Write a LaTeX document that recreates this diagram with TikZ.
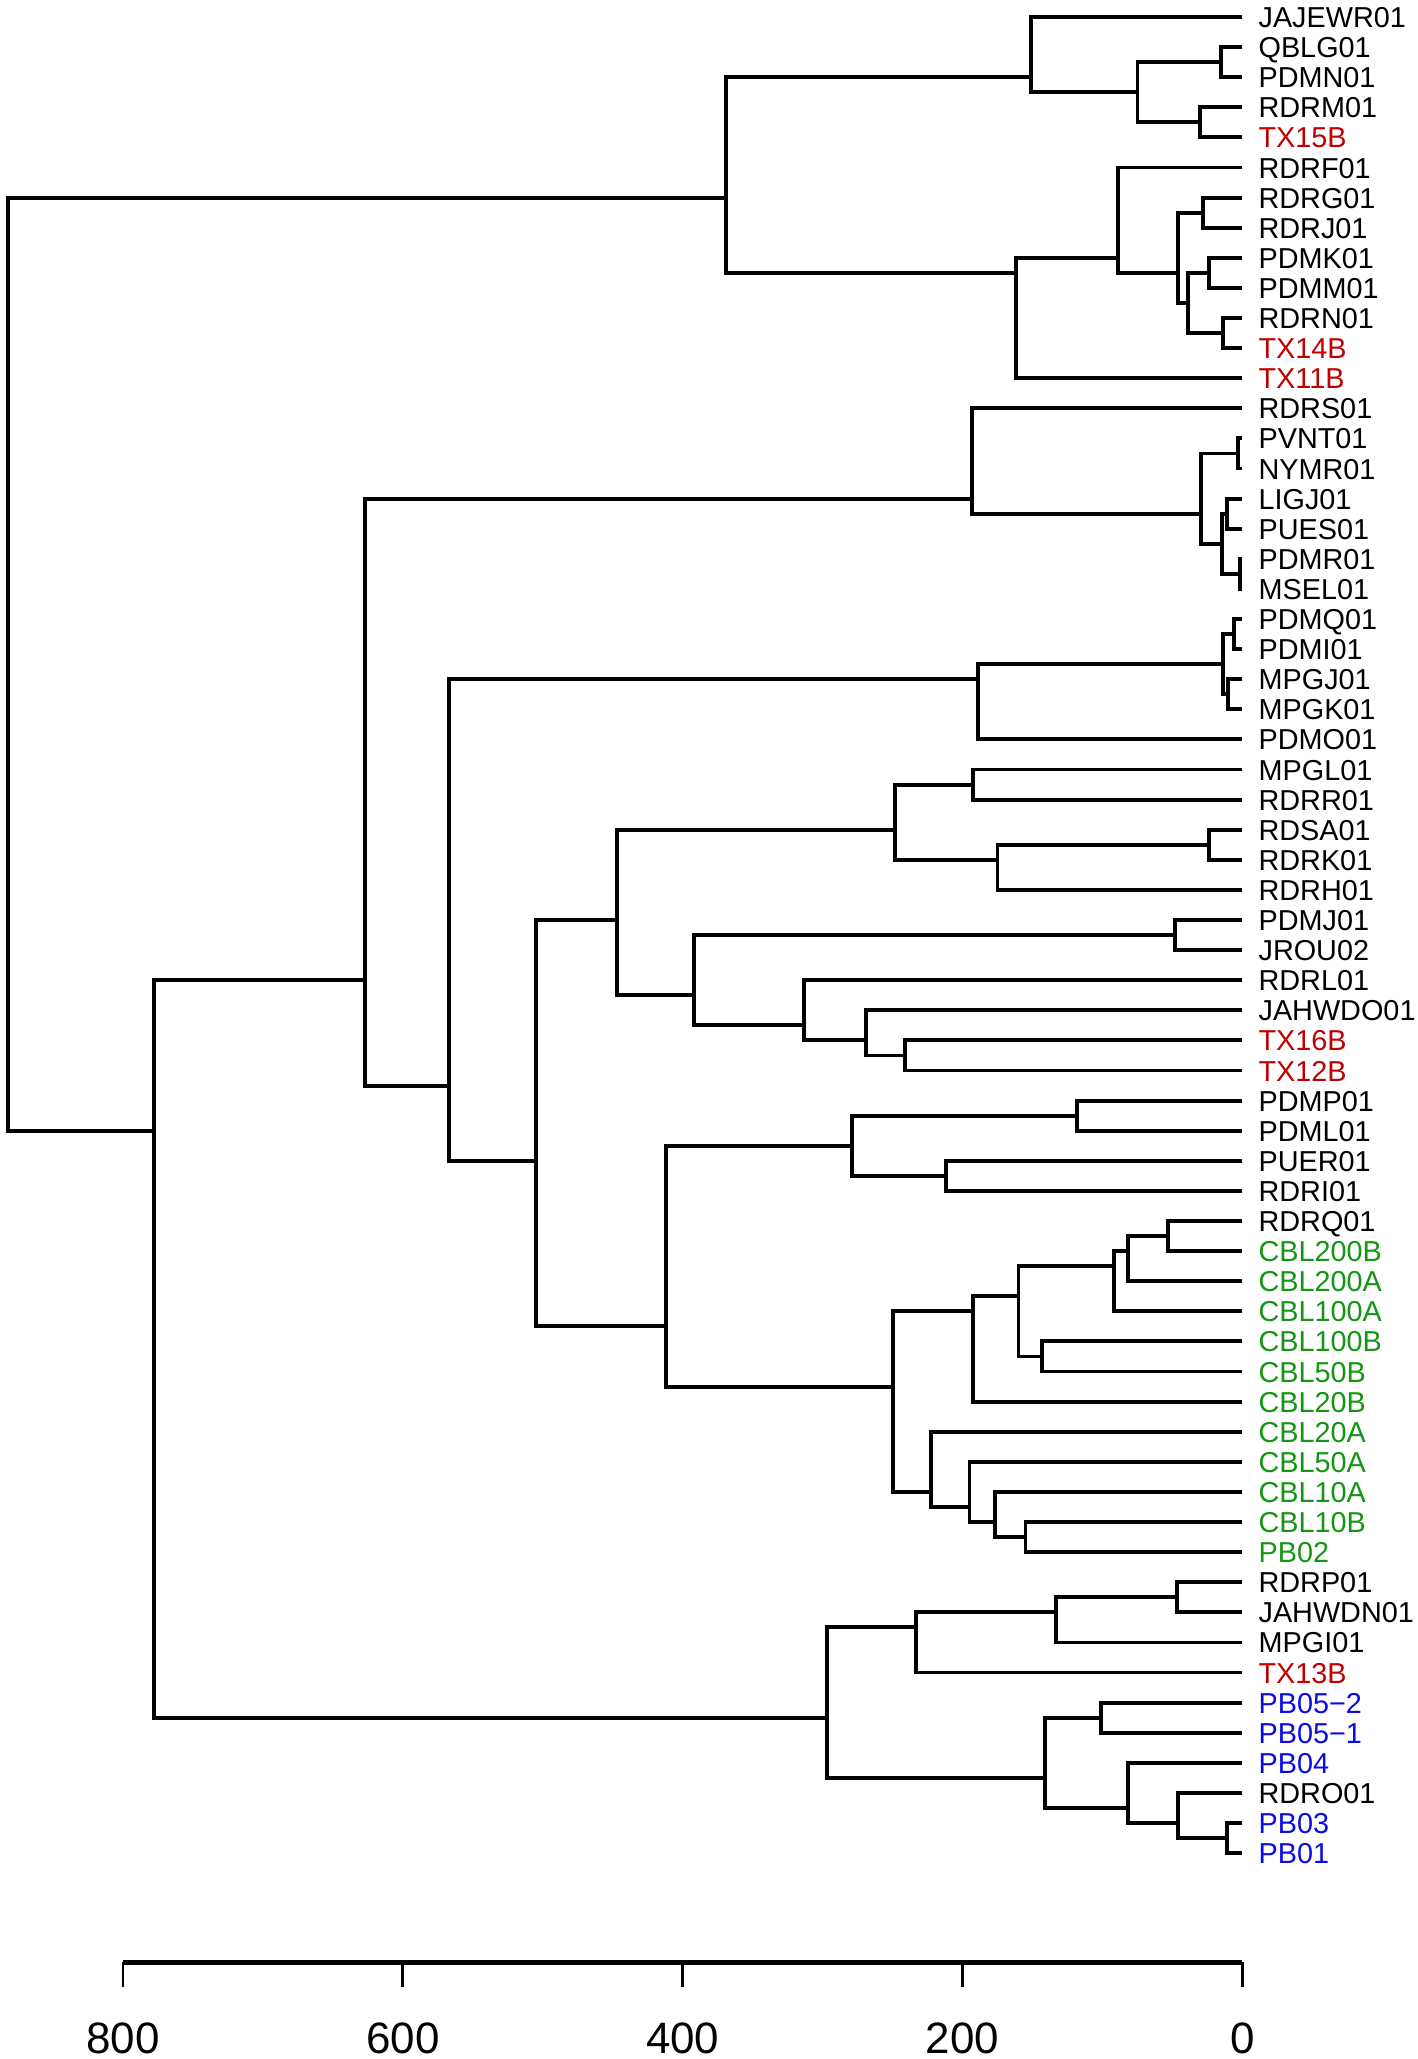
\documentclass[tikz,border=0pt]{standalone}
\usepackage{fontspec}
\setmainfont{Liberation Sans}
\usepackage{tikz}
\definecolor{txred}{RGB}{192,0,0}
\definecolor{cblgreen}{RGB}{20,150,20}
\definecolor{pbblue}{RGB}{10,10,230}
\tikzstyle{leaf} = [anchor=west, inner xsep=0.155cm, inner ysep=0pt, text height=6pt, text depth=0pt, font=\fontsize{8.2}{9}\selectfont]
\tikzstyle{branch} = [line width=1.1pt, black]
\tikzstyle{axisline} = [line width=1.4pt]
\tikzstyle{tick} = [line width=0.8pt]
\tikzstyle{ticklabel} = [inner sep=0pt, font=\fontsize{12.5}{14}\selectfont]

\begin{document}
\begin{tikzpicture}[x=-0.0139875cm, y=-0.301cm]
\useasboundingbox (887.9,-0.565) rectangle (-125.1,67.84);

\foreach \lbl/\col [count=\i from 0] in {JAJEWR01/black, QBLG01/black, PDMN01/black, RDRM01/black, TX15B/txred, RDRF01/black, RDRG01/black, RDRJ01/black, PDMK01/black, PDMM01/black, RDRN01/black, TX14B/txred, TX11B/txred, RDRS01/black, PVNT01/black, NYMR01/black, LIGJ01/black, PUES01/black, PDMR01/black, MSEL01/black, PDMQ01/black, PDMI01/black, MPGJ01/black, MPGK01/black, PDMO01/black, MPGL01/black, RDRR01/black, RDSA01/black, RDRK01/black, RDRH01/black, PDMJ01/black, JROU02/black, RDRL01/black, JAHWDO01/black, TX16B/txred, TX12B/txred, PDMP01/black, PDML01/black, PUER01/black, RDRI01/black, RDRQ01/black, CBL200B/cblgreen, CBL200A/cblgreen, CBL100A/cblgreen, CBL100B/cblgreen, CBL50B/cblgreen, CBL20B/cblgreen, CBL20A/cblgreen, CBL50A/cblgreen, CBL10A/cblgreen, CBL10B/cblgreen, PB02/cblgreen, RDRP01/black, JAHWDN01/black, MPGI01/black, TX13B/txred, PB05−2/pbblue, PB05−1/pbblue, PB04/pbblue, RDRO01/black, PB03/pbblue, PB01/pbblue}
  \node (L\i) [leaf, text=\col] at (0,\i) {\lbl};

\coordinate (a1) at (15,1.5);
\coordinate (a2) at (30,3.5);
\coordinate (a3) at (75,2.5);
\coordinate (a4) at (151,2);
\coordinate (b1) at (28,6.5);
\coordinate (b2) at (24,8.5);
\coordinate (b3) at (14,10.5);
\coordinate (b4) at (39,9.5);
\coordinate (b5) at (46,8.5);
\coordinate (b6) at (89,8);
\coordinate (b7) at (162,8.5);
\coordinate (t1) at (369,6);
\coordinate (c1) at (3,14.5);
\coordinate (c2) at (11,16.5);
\coordinate (c3) at (2,18.5);
\coordinate (c4) at (14.5,17.5);
\coordinate (c5) at (29.5,16.5);
\coordinate (c6) at (193,16);
\coordinate (d1) at (6,20.5);
\coordinate (d2) at (10,22.5);
\coordinate (d3) at (14,21.5);
\coordinate (d4) at (189,22);
\coordinate (e1) at (192.5,25.5);
\coordinate (e2) at (24,27.5);
\coordinate (e3) at (175,28);
\coordinate (e4) at (248,27);
\coordinate (f1) at (48,30.5);
\coordinate (f2) at (241,34.5);
\coordinate (f3) at (269,34);
\coordinate (f4) at (313,33.5);
\coordinate (f5) at (392,32.5);
\coordinate (g1) at (447,30);
\coordinate (h1) at (118,36.5);
\coordinate (h2) at (212,38.5);
\coordinate (h3) at (279,37.5);
\coordinate (k1) at (53,40.5);
\coordinate (k2) at (82,41);
\coordinate (k3) at (92,41.5);
\coordinate (k4) at (143,44.5);
\coordinate (k5) at (160,42.5);
\coordinate (k6) at (192.5,43);
\coordinate (m1) at (155,50.5);
\coordinate (m2) at (177,50);
\coordinate (m3) at (195,49.5);
\coordinate (m4) at (222.5,49);
\coordinate (k7) at (250,45.5);
\coordinate (h4) at (412,43.5);
\coordinate (g2) at (505,38);
\coordinate (g3) at (567,35.5);
\coordinate (g4) at (627,32);
\coordinate (p1) at (47,52.5);
\coordinate (p2) at (133,53);
\coordinate (p3) at (233,53.5);
\coordinate (q1) at (101,56.5);
\coordinate (q2) at (11,60.5);
\coordinate (q3) at (46,60);
\coordinate (q4) at (82,59.5);
\coordinate (q5) at (141,58.5);
\coordinate (p4) at (297,56.5);
\coordinate (r2) at (778,37);
\coordinate (root) at (882,30.5);

\draw [branch] (L1) -| (a1) |- (L2);
\draw [branch] (L3) -| (a2) |- (L4);
\draw [branch] (a1) -| (a3) |- (a2);
\draw [branch] (L0) -| (a4) |- (a3);
\draw [branch] (L6) -| (b1) |- (L7);
\draw [branch] (L8) -| (b2) |- (L9);
\draw [branch] (L10) -| (b3) |- (L11);
\draw [branch] (b2) -| (b4) |- (b3);
\draw [branch] (b1) -| (b5) |- (b4);
\draw [branch] (L5) -| (b6) |- (b5);
\draw [branch] (b6) -| (b7) |- (L12);
\draw [branch] (a4) -| (t1) |- (b7);
\draw [branch] (L14) -| (c1) |- (L15);
\draw [branch] (L16) -| (c2) |- (L17);
\draw [branch] (L18) -| (c3) |- (L19);
\draw [branch] (c2) -| (c4) |- (c3);
\draw [branch] (c1) -| (c5) |- (c4);
\draw [branch] (L13) -| (c6) |- (c5);
\draw [branch] (L20) -| (d1) |- (L21);
\draw [branch] (L22) -| (d2) |- (L23);
\draw [branch] (d1) -| (d3) |- (d2);
\draw [branch] (d3) -| (d4) |- (L24);
\draw [branch] (L25) -| (e1) |- (L26);
\draw [branch] (L27) -| (e2) |- (L28);
\draw [branch] (e2) -| (e3) |- (L29);
\draw [branch] (e1) -| (e4) |- (e3);
\draw [branch] (L30) -| (f1) |- (L31);
\draw [branch] (L34) -| (f2) |- (L35);
\draw [branch] (L33) -| (f3) |- (f2);
\draw [branch] (L32) -| (f4) |- (f3);
\draw [branch] (f1) -| (f5) |- (f4);
\draw [branch] (e4) -| (g1) |- (f5);
\draw [branch] (L36) -| (h1) |- (L37);
\draw [branch] (L38) -| (h2) |- (L39);
\draw [branch] (h1) -| (h3) |- (h2);
\draw [branch] (L40) -| (k1) |- (L41);
\draw [branch] (k1) -| (k2) |- (L42);
\draw [branch] (k2) -| (k3) |- (L43);
\draw [branch] (L44) -| (k4) |- (L45);
\draw [branch] (k3) -| (k5) |- (k4);
\draw [branch] (k5) -| (k6) |- (L46);
\draw [branch] (L50) -| (m1) |- (L51);
\draw [branch] (L49) -| (m2) |- (m1);
\draw [branch] (L48) -| (m3) |- (m2);
\draw [branch] (L47) -| (m4) |- (m3);
\draw [branch] (k6) -| (k7) |- (m4);
\draw [branch] (h3) -| (h4) |- (k7);
\draw [branch] (g1) -| (g2) |- (h4);
\draw [branch] (d4) -| (g3) |- (g2);
\draw [branch] (c6) -| (g4) |- (g3);
\draw [branch] (L52) -| (p1) |- (L53);
\draw [branch] (p1) -| (p2) |- (L54);
\draw [branch] (p2) -| (p3) |- (L55);
\draw [branch] (L56) -| (q1) |- (L57);
\draw [branch] (L60) -| (q2) |- (L61);
\draw [branch] (L59) -| (q3) |- (q2);
\draw [branch] (L58) -| (q4) |- (q3);
\draw [branch] (q1) -| (q5) |- (q4);
\draw [branch] (p3) -| (p4) |- (q5);
\draw [branch] (g4) -| (r2) |- (p4);
\draw [branch] (t1) -| (root) |- (r2);

\draw [axisline] (800,64.62) -- (0,64.62);
\foreach \v in {0,200,400,600,800} {
  \draw [tick] (\v,64.62) -- ++(0pt,-0.25cm);
  \node (tk\v) [ticklabel] at (\v,67.14) {\v};
}
\end{tikzpicture}
\end{document}
